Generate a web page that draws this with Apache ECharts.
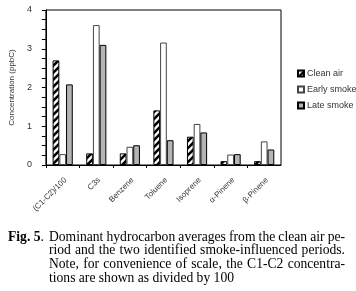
<!DOCTYPE html>
<html><head><meta charset="utf-8">
<script src="https://cdn.jsdelivr.net/npm/echarts@6/dist/echarts.min.js"></script>
<style>html,body{margin:0;padding:0;background:#fff}#c{width:356px;height:291px}</style>
</head><body><div id="c"></div>
<script>
const categories = ['(C1-C2)/100', 'C3s', 'Benzene', 'Toluene', 'Isoprene', 'α-Pinene', 'β-Pinene'];
const cleanAir   = [2.70, 0.30, 0.30, 1.41, 0.73, 0.10, 0.10];
const earlySmoke = [0.28, 3.61, 0.47, 3.16, 1.06, 0.27, 0.61];
const lateSmoke  = [2.08, 3.10, 0.51, 0.64, 0.84, 0.28, 0.40];
const yTicks = [0, 1, 2, 3, 4];
const captionLabel = 'Fig. 5';
const captionLines = [
  'Dominant hydrocarbon averages from the clean air pe-',
  'riod and the two identified smoke-influenced periods.',
  'Note, for convenience of scale, the C1-C2 concentra-',
  'tions are shown as divided by 100'
];

function stripePattern() {
  const s = 7;
  const cv = document.createElement('canvas');
  cv.width = s; cv.height = s;
  const g = cv.getContext('2d');
  g.fillStyle = '#fff'; g.fillRect(0, 0, s, s);
  g.strokeStyle = '#000'; g.lineWidth = 2.6;
  g.beginPath();
  g.moveTo(-1, s + 1); g.lineTo(s + 1, -1);
  g.moveTo(-1, 1); g.lineTo(1, -1);
  g.moveTo(s - 1, s + 1); g.lineTo(s + 1, s - 1);
  g.stroke();
  return cv;
}

const serif = '"Liberation Serif", "Times New Roman", serif';
const sans = 'Arial, "Liberation Sans", sans-serif';
const capFont = '13.6px ' + serif;

// caption layout (justified text lines)
const mctx = document.createElement('canvas').getContext('2d');
mctx.font = capFont;
const capLeft = 49, capRight = 345, capTop = 237, capStep = 13.7;
const graphics = [{
  type: 'text', x: 8, y: capTop,
  style: {text: '{b|' + captionLabel + '}.', rich: {b: {fontWeight: 'bold', fontFamily: serif, fontSize: 13.6, fill: '#000'}},
          font: capFont, fill: '#000', verticalAlign: 'middle'}
}];
captionLines.forEach((t, i) => {
  const y = capTop + i * capStep;
  const last = i === captionLines.length - 1;
  if (last) {
    graphics.push({type: 'text', x: capLeft, y, style: {text: t, font: capFont, fill: '#000', verticalAlign: 'middle'}});
    return;
  }
  const words = t.split(' ');
  const widths = words.map(w => mctx.measureText(w).width);
  const total = widths.reduce((a, b) => a + b, 0);
  const gap = (capRight - capLeft - total) / (words.length - 1);
  let x = capLeft;
  words.forEach((w, k) => {
    graphics.push({type: 'text', x, y, style: {text: w, font: capFont, fill: '#000', verticalAlign: 'middle'}});
    x += widths[k] + gap;
  });
});

const chart = echarts.init(document.getElementById('c'), null, {renderer: 'canvas'});
chart.setOption({
  animation: false,
  grid: {left: 38, right: 75, top: 10, bottom: 126, show: true, borderColor: '#000', borderWidth: 1},
  legend: {
    left: 292, top: 64, orient: 'vertical', itemWidth: 6, itemHeight: 6, itemGap: 7, icon: 'rect',
    textStyle: {fontSize: 9, fontFamily: sans, color: '#333', padding: [0, 0, 0, -2]},
    data: ['Clean air', 'Early smoke', 'Late smoke']
  },
  xAxis: {
    type: 'category', data: categories,
    axisLine: {lineStyle: {color: '#000'}},
    axisTick: {show: true, length: 3, lineStyle: {color: '#000'}},
    axisLabel: {rotate: 45, fontSize: 8, fontFamily: sans, color: '#333', margin: 11, verticalAlign: 'top', interval: 0}
  },
  yAxis: {
    type: 'value', min: 0, max: 4, interval: 1,
    name: 'Concentration (ppbC)', nameLocation: 'middle', nameGap: 24,
    nameTextStyle: {fontSize: 8, fontFamily: sans, color: '#333'},
    axisLine: {show: true, lineStyle: {color: '#000'}},
    axisTick: {show: true, length: 4, lineStyle: {color: '#000'}},
    minorTick: {show: true, splitNumber: 4, length: 4, lineStyle: {color: '#000'}},
    splitLine: {show: false},
    axisLabel: {fontSize: 9, fontFamily: sans, color: '#333', margin: 14,
      formatter: v => yTicks.includes(v) ? String(v) : ''}
  },
  series: [
    {name: 'Clean air', type: 'bar', data: cleanAir, barGap: '0%', barCategoryGap: '40%',
     itemStyle: {color: {image: stripePattern(), repeat: 'repeat'}, borderColor: '#000', borderWidth: 1}},
    {name: 'Early smoke', type: 'bar', data: earlySmoke,
     itemStyle: {color: '#fff', borderColor: '#444', borderWidth: 1}},
    {name: 'Late smoke', type: 'bar', data: lateSmoke,
     itemStyle: {color: '#b4b4b4', borderColor: '#000', borderWidth: 1}}
  ],
  graphic: graphics
});
</script></body></html>
